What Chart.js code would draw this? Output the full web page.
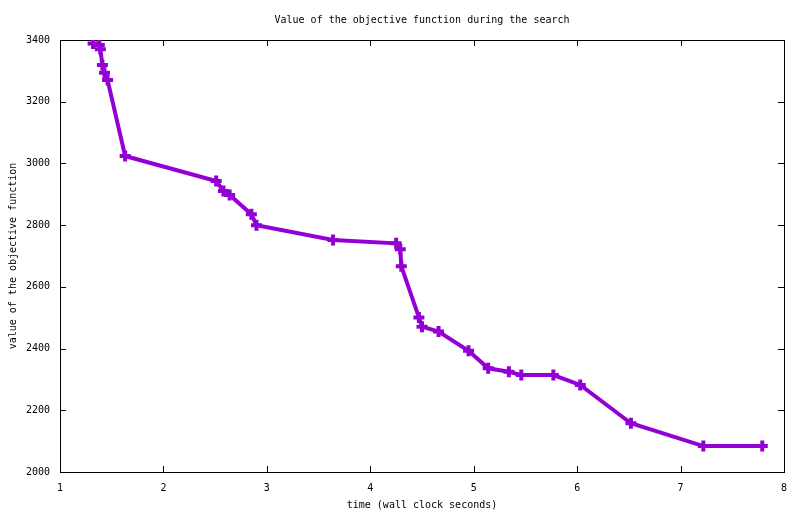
<!DOCTYPE html>
<html>
<head>
<meta charset="utf-8">
<script src="https://cdn.jsdelivr.net/npm/chart.js@4"></script>
<style>
  html, body { margin: 0; padding: 0; background: #fff; }
  #wrap { width: 800px; height: 514px; }
</style>
</head>
<body>
<div id="wrap"><canvas id="objChart" width="800" height="514"></canvas></div>
<script>
// wall clock seconds at each improvement
const times = [1.32, 1.38, 1.39, 1.41, 1.43, 1.46, 1.63, 2.51, 2.58, 2.64, 2.85, 2.90,
               3.64, 4.25, 4.29, 4.30, 4.47, 4.50, 4.66, 4.95, 5.14, 5.34, 5.46, 5.77,
               6.03, 6.52, 7.22, 7.79];
// objective value found at that time
const objective = [3389, 3384, 3370, 3319, 3294, 3270, 3024, 2943, 2911, 2898, 2835, 2800,
                   2752, 2741, 2722, 2667, 2501, 2471, 2455, 2393, 2336, 2325, 2314, 2314,
                   2282, 2158, 2084, 2084];
const xTicks = [1, 2, 3, 4, 5, 6, 7, 8];
const yTicks = [2000, 2200, 2400, 2600, 2800, 3000, 3200, 3400];

const FONT = { family: "'DejaVu Sans Mono', 'Liberation Mono', monospace", size: 10 };
const PURPLE = "#9400d3";

// gnuplot style frame: full border with ticks pointing inward on all four sides
const framePlugin = {
    id: "frame",
    beforeDatasetsDraw(chart) {
        const { ctx, chartArea: a, scales } = chart;
        const len = 6;
        ctx.save();
        ctx.strokeStyle = "#000";
        ctx.lineWidth = 1;
        ctx.beginPath();
        xTicks.forEach(v => {
            const px = Math.round(scales.x.getPixelForValue(v)) + 0.5;
            ctx.moveTo(px, a.bottom); ctx.lineTo(px, a.bottom - len);
            ctx.moveTo(px, a.top); ctx.lineTo(px, a.top + len);
        });
        yTicks.forEach(v => {
            const py = Math.round(scales.y.getPixelForValue(v)) + 0.5;
            ctx.moveTo(a.left, py); ctx.lineTo(a.left + len, py);
            ctx.moveTo(a.right, py); ctx.lineTo(a.right - len, py);
        });
        ctx.stroke();
        ctx.strokeRect(Math.round(a.left) + 0.5, Math.round(a.top) + 0.5,
                       Math.round(a.right - a.left), Math.round(a.bottom - a.top));
        ctx.restore();
    }
};

new Chart(document.getElementById("objChart").getContext("2d"), {
    type: "line",
    data: {
        datasets: [{
            label: "objective",
            data: times.map((t, i) => ({ x: t, y: objective[i] })),
            borderColor: PURPLE,
            backgroundColor: PURPLE,
            borderWidth: 4,
            tension: 0,
            fill: false,
            pointStyle: "cross",
            pointRadius: 5.5,
            pointBorderWidth: 4,
            pointBorderColor: PURPLE
        }]
    },
    options: {
        responsive: false,
        animation: false,
        devicePixelRatio: 1,
        layout: { padding: { right: 16, top: 0, left: 0, bottom: 0 } },
        plugins: {
            legend: { display: false },
            tooltip: { enabled: false }
        },
        scales: {
            x: {
                type: "linear",
                min: 1, max: 8,
                afterFit: s => { s.height = 42; },
                afterBuildTicks: s => { s.ticks = xTicks.map(v => ({ value: v })); },
                ticks: { color: "#000", font: FONT, padding: 10, maxRotation: 0,
                         callback: v => String(v) },
                grid: { display: false, drawTicks: false },
                border: { display: false },
                title: {
                    display: true,
                    text: "time (wall clock seconds)",
                    color: "#000",
                    font: FONT,
                    padding: { top: 0, bottom: 3 }
                }
            },
            // top axis only carries the chart title, centred over the plot like gnuplot
            xTop: {
                type: "linear",
                position: "top",
                min: 1, max: 8,
                afterFit: s => { s.height = 40; },
                ticks: { display: false },
                grid: { display: false, drawTicks: false },
                border: { display: false },
                title: {
                    display: true,
                    text: "Value of the objective function during the search",
                    color: "#000",
                    font: FONT,
                    padding: { top: 14, bottom: 0 }
                }
            },
            y: {
                type: "linear",
                min: 2000, max: 3400,
                afterFit: s => { s.width = 60; },
                afterBuildTicks: s => { s.ticks = yTicks.map(v => ({ value: v })); },
                ticks: { color: "#000", font: FONT, padding: 10,
                         callback: v => String(v) },
                grid: { display: false, drawTicks: false },
                border: { display: false },
                title: {
                    display: true,
                    text: "value of the objective function",
                    color: "#000",
                    font: FONT,
                    padding: { top: 7, bottom: 0 }
                }
            }
        }
    },
    plugins: [framePlugin]
});
</script>
</body>
</html>
